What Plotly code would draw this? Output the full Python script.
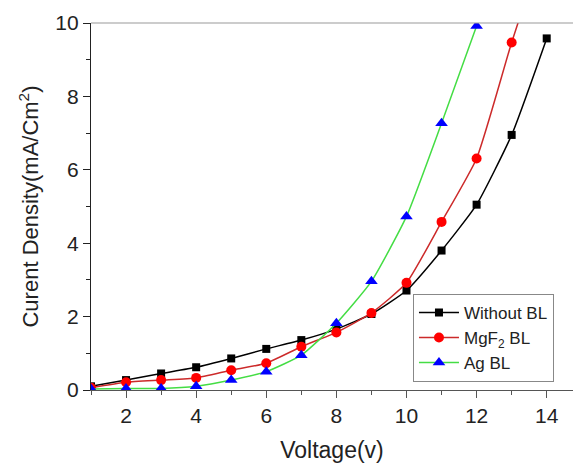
import plotly.graph_objects as go

voltage = [1, 2, 3, 4, 5, 6, 7, 8, 9, 10, 11, 12, 13, 14]
without_bl = [0.1, 0.27, 0.45, 0.62, 0.86, 1.12, 1.36, 1.66, 2.07, 2.71, 3.8, 5.05, 6.95, 9.58]
mgf2_bl = [0.06, 0.21, 0.27, 0.33, 0.54, 0.73, 1.18, 1.57, 2.1, 2.92, 4.58, 6.31, 9.47, 12.4]
ag_voltage = [1, 2, 3, 4, 5, 6, 7, 8, 9, 10, 11, 12]
ag_bl = [0.03, 0.04, 0.04, 0.1, 0.27, 0.5, 0.95, 1.82, 2.96, 4.73, 7.27, 9.92]

FONT = "Liberation Sans, Arial, sans-serif"

fig = go.Figure()
fig.add_trace(go.Scatter(
    x=voltage, y=without_bl, name="Without BL", mode="lines+markers",
    line=dict(color="#000000", width=1.5, shape="spline", smoothing=0.5),
    marker=dict(symbol="square", size=8, color="#000000"),
))
fig.add_trace(go.Scatter(
    x=voltage, y=mgf2_bl, name="MgF<sub>2</sub> BL", mode="lines+markers",
    line=dict(color="#cc2a2a", width=1.5, shape="spline", smoothing=0.5),
    marker=dict(symbol="circle", size=10, color="#ff0000"),
))
fig.add_trace(go.Scatter(
    x=ag_voltage, y=ag_bl, name="Ag BL", mode="lines+markers",
    line=dict(color="#44dd44", width=1.5, shape="spline", smoothing=0.5),
    marker=dict(symbol="triangle-up", size=11, color="#0000ff"),
))

fig.update_layout(
    width=573, height=463,
    margin=dict(l=91, r=0, t=23, b=73),
    paper_bgcolor="white", plot_bgcolor="white",
    font=dict(family=FONT, color="#222222", size=20),
    showlegend=True,
    legend=dict(
        x=0.668, y=0.262, xanchor="left", yanchor="top",
        bgcolor="white", bordercolor="#888888", borderwidth=1,
        font=dict(family=FONT, size=17, color="#222222"),
        itemwidth=40, tracegroupgap=0,
    ),
    xaxis=dict(
        range=[1, 14.75], tickvals=[2, 4, 6, 8, 10, 12, 14],
        showgrid=False, zeroline=False,
        showline=True, linecolor="#555555", linewidth=1.2,
        ticks="outside", ticklen=7, tickcolor="#555555",
        minor=dict(tickvals=[1, 3, 5, 7, 9, 11, 13], ticks="outside", ticklen=4, tickcolor="#555555"),
        tickfont=dict(size=21),
        title=dict(text="Voltage(v)", font=dict(size=23), standoff=16),
    ),
    yaxis=dict(
        range=[0, 10], tickvals=[0, 2, 4, 6, 8, 10],
        showgrid=False, zeroline=False,
        showline=True, linecolor="#222222", linewidth=1.2,
        ticks="outside", ticklen=7, tickcolor="#222222",
        minor=dict(tickvals=[1, 3, 5, 7, 9], ticks="outside", ticklen=4, tickcolor="#222222"),
        tickfont=dict(size=21),
        title=dict(text="Curent Density(mA/Cm<sup>2</sup>)", font=dict(size=22), standoff=10),
    ),
)
fig.add_shape(type="line", xref="paper", yref="paper", x0=0, x1=1, y0=1, y1=1,
              line=dict(color="#999999", width=1.2))

fig.write_html("out.html")
